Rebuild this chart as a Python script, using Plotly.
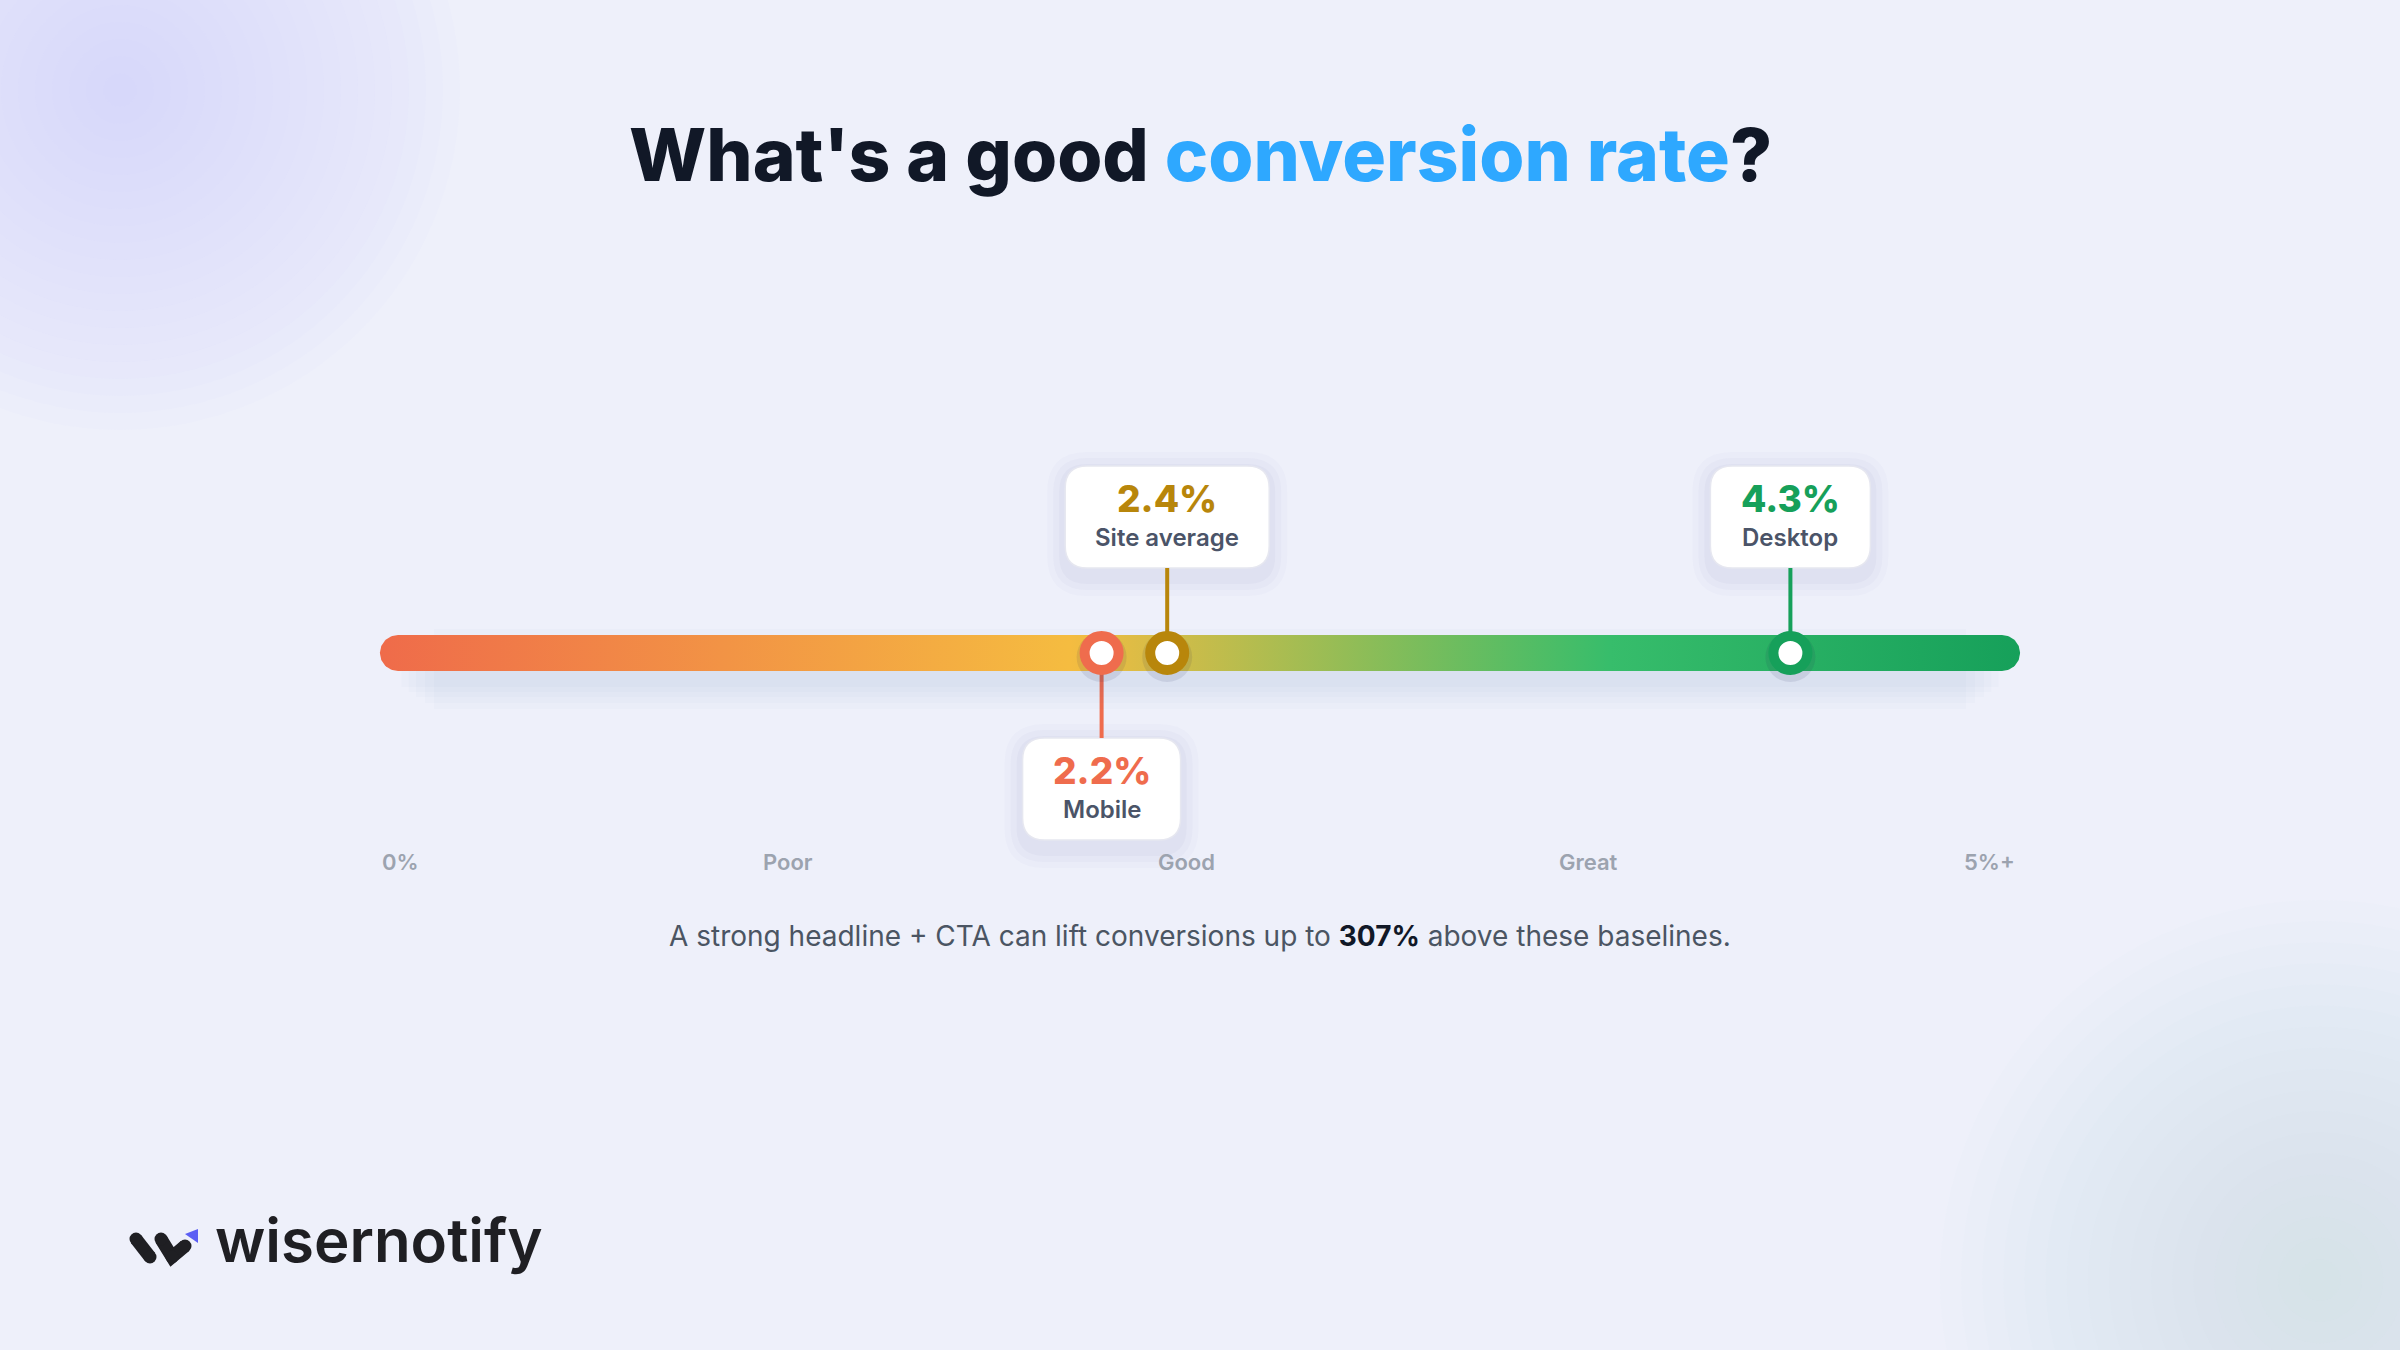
import numpy as np
import plotly.graph_objects as go

W, H = 2400, 1350

# --- data ---
metric_labels = ["Mobile", "Site average", "Desktop"]
metric_values = [2.2, 2.4, 4.3]
scale_range = [0, 5]
zone_labels = ["0%", "Poor", "Good", "Great", "5%+"]
zone_positions = [0, 1.245, 2.46, 3.685, 4.99]
lift_pct = 307

# --- style ---
metric_colors = ["#ef6c4d", "#b8860b", "#16a05a"]
box_side = [-1, 1, 1]          # -1 = callout below the bar
box_width = [158, 204, 160]
bar_colors = [[0, "#ef6b4a"], [0.42, "#f5bc40"], [0.75, "#37bd6b"], [1, "#16a05a"]]
FONT = "Inter"
BG = "#eef0fa"

BAR_LEFT, BAR_RIGHT, BAR_Y = 380, 2020, 653
BAR_R = 18
ppu = (BAR_RIGHT - BAR_LEFT) / (scale_range[1] - scale_range[0])
x_range = [scale_range[0] - BAR_LEFT / ppu, scale_range[0] + (W - BAR_LEFT) / ppu]
y_range = [-(H - BAR_Y), BAR_Y]   # y is "pixels above the bar centre"


def px(x):
    return x / W


def py(y):
    return 1 - y / H


def rrect(x0, x1, y0, y1, r):
    return (f"M {x0 + r},{y1} L {x1 - r},{y1} Q {x1},{y1} {x1},{y1 - r} "
            f"L {x1},{y0 + r} Q {x1},{y0} {x1 - r},{y0} L {x0 + r},{y0} "
            f"Q {x0},{y0} {x0},{y0 + r} L {x0},{y1 - r} Q {x0},{y1} {x0 + r},{y1} Z")


shapes = []

# soft background blobs
for cx, cy, col, n, rmax in [(120, 90, "rgba(200,198,244,0.045)", 20, 340),
                              (2320, 1280, "rgba(196,222,232,0.035)", 18, 380)]:
    for i in range(n):
        r = rmax * (1 - i / n)
        shapes.append(dict(type="circle", xref="paper", yref="paper",
                           x0=px(cx - r), x1=px(cx + r), y0=py(cy + r), y1=py(cy - r),
                           fillcolor=col, line_width=0, layer="below"))

# callout boxes + stems
for v, side, bw, col in zip(metric_values, box_side, box_width, metric_colors):
    near, far = 85, 187
    y0, y1 = (near, far) if side > 0 else (-far, -near)
    for k, a in [(18, 0.025), (12, 0.03), (6, 0.035)]:
        shapes.append(dict(type="path", xref="x", yref="y", xsizemode="pixel", xanchor=v,
                           path=rrect(-bw / 2 - k, bw / 2 + k, y0 - 10 - k, y1 - 4 + k, 22 + k),
                           fillcolor=f"rgba(80,90,150,{a})", line_width=0, layer="below"))
    shapes.append(dict(type="path", xref="x", yref="y", xsizemode="pixel", xanchor=v,
                       path=rrect(-bw / 2, bw / 2, y0, y1, 22),
                       fillcolor="white", line=dict(color="#e6e7f0", width=1.5), layer="below"))
    shapes.append(dict(type="line", xref="x", yref="y", x0=v, x1=v,
                       y0=side * near, y1=0, line=dict(color=col, width=4), layer="below"))

# logo mark
ink = "#1f1f23"
for pts in [[(136, 1239), (150, 1257)], [(161, 1239), (172, 1257), (185, 1246)]]:
    path = "M " + " L ".join(f"{px(a)},{py(b)}" for a, b in pts)
    shapes.append(dict(type="path", xref="paper", yref="paper", path=path,
                       line=dict(color=ink, width=13), layer="above"))
    for a, b in pts:
        shapes.append(dict(type="circle", xref="paper", yref="paper",
                           x0=px(a - 6.5), x1=px(a + 6.5), y0=py(b + 6.5), y1=py(b - 6.5),
                           fillcolor=ink, line_width=0, layer="above"))
tri = [(185, 1234), (198, 1229), (198, 1243)]
shapes.append(dict(type="path", xref="paper", yref="paper",
                   path="M " + " L ".join(f"{px(a)},{py(b)}" for a, b in tri) + " Z",
                   fillcolor="#5b5ef4", line_width=0, layer="above"))

fig = go.Figure()

# bar shadow (layered soft strip)
lo, hi = scale_range
rx = BAR_R / ppu
for w, inset in [(80, 3.0), (68, 2.5), (56, 2.0), (46, 1.6), (36, 1.2)]:
    fig.add_trace(go.Scatter(x=[lo + inset * rx, hi - inset * rx], y=[-16, -16], mode="lines",
                             line=dict(color="rgba(70,80,140,0.02)", width=w),
                             hoverinfo="skip", showlegend=False))

# gradient bar (stadium shape)
tl = np.linspace(np.pi / 2, 3 * np.pi / 2, 40)
tr = np.linspace(-np.pi / 2, np.pi / 2, 40)
bx = np.concatenate([lo + rx + rx * np.cos(tl), hi - rx + rx * np.cos(tr)])
by = np.concatenate([BAR_R * np.sin(tl), BAR_R * np.sin(tr)])
fig.add_trace(go.Scatter(x=bx, y=by, mode="lines", line=dict(width=0), fill="toself",
                         fillgradient=dict(type="horizontal", colorscale=bar_colors),
                         hoverinfo="skip", showlegend=False))

# markers
fig.add_trace(go.Scatter(x=metric_values, y=[-4] * len(metric_values), mode="markers",
                         marker=dict(size=50, color="rgba(40,40,90,0.10)", line_width=0),
                         hoverinfo="skip", showlegend=False))
fig.add_trace(go.Scatter(x=metric_values, y=[0] * len(metric_values), mode="markers",
                         marker=dict(size=34, color="white",
                                     line=dict(color=metric_colors, width=10)),
                         hoverinfo="skip", showlegend=False))

annotations = []
for v, lab, side, col in zip(metric_values, metric_labels, box_side, metric_colors):
    c = side * 136
    annotations.append(dict(x=v, y=c + 19, xref="x", yref="y", showarrow=False, yanchor="middle",
                            text=f"{v}%", font=dict(family=FONT, size=37, color=col, weight=800)))
    annotations.append(dict(x=v, y=c - 20, xref="x", yref="y", showarrow=False, yanchor="middle",
                            text=lab, font=dict(family=FONT, size=24, color="#4b5468", weight=600)))

for i, (pos, lab) in enumerate(zip(zone_positions, zone_labels)):
    anchor = "left" if i == 0 else ("right" if i == len(zone_labels) - 1 else "center")
    annotations.append(dict(x=pos, y=BAR_Y - 862, xref="x", yref="y", showarrow=False,
                            xanchor=anchor, yanchor="middle", text=lab,
                            font=dict(family=FONT, size=22, color="#9ca3af", weight=600)))

annotations.append(dict(x=0.5, y=py(154), xref="paper", yref="paper", showarrow=False,
                        xanchor="center", yanchor="middle",
                        text="What's a good <span style='color:#2ea8ff'>conversion rate</span>?",
                        font=dict(family=FONT, size=73, color="#111827", weight=800)))
annotations.append(dict(x=0.5, y=py(936), xref="paper", yref="paper", showarrow=False,
                        xanchor="center", yanchor="middle",
                        text=("A strong headline + CTA can lift conversions up to "
                              f"<span style='color:#111827'><b>{lift_pct}%</b></span> above these baselines."),
                        font=dict(family=FONT, size=28, color="#4b5563")))
annotations.append(dict(x=px(213), y=py(1240), xref="paper", yref="paper", showarrow=False,
                        xanchor="left", yanchor="middle", text="wisernotify",
                        font=dict(family=FONT, size=60, color=ink, weight=600)))

fig.update_layout(
    width=W, height=H,
    margin=dict(l=0, r=0, t=0, b=0),
    paper_bgcolor=BG, plot_bgcolor="rgba(0,0,0,0)",
    xaxis=dict(range=x_range, visible=False, fixedrange=True),
    yaxis=dict(range=y_range, visible=False, fixedrange=True),
    shapes=shapes, annotations=annotations,
    showlegend=False,
)

fig.write_html("out.html", config={"displayModeBar": False},
               post_script="document.body.style.margin='0';")
